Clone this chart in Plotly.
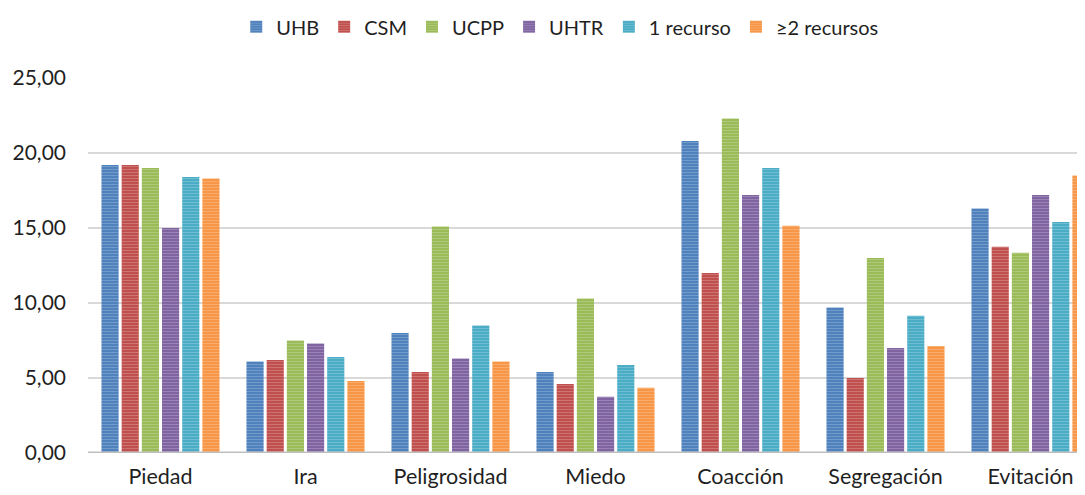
import plotly.graph_objects as go

categories = ["Piedad", "Ira", "Peligrosidad", "Miedo", "Coacción", "Segregación", "Evitación"]
series_names = ["UHB", "CSM", "UCPP", "UHTR", "1 recurso", "≥2 recursos"]
uhb = [19.2, 6.1, 8.0, 5.4, 20.8, 9.7, 16.3]
csm = [19.2, 6.2, 5.4, 4.6, 12.0, 5.0, 13.75]
ucpp = [19.0, 7.5, 15.1, 10.3, 22.3, 13.0, 13.35]
uhtr = [15.0, 7.3, 6.3, 3.75, 17.2, 7.0, 17.2]
rec1 = [18.4, 6.4, 8.5, 5.87, 19.0, 9.15, 15.4]
rec2 = [18.3, 4.8, 6.1, 4.35, 15.15, 7.13, 18.5]
colors = ["#4F81BD", "#C0504D", "#9BBB59", "#8064A2", "#4BACC6", "#F79646"]
y_ticks = [0, 5, 10, 15, 20, 25]

fig = go.Figure()
for name, vals, col in zip(series_names, [uhb, csm, ucpp, uhtr, rec1, rec2], colors):
    fig.add_trace(go.Bar(
        x=categories, y=vals, name=name,
        marker=dict(color=col, line=dict(width=0),
                    pattern=dict(shape="-", fgcolor="rgba(255,255,255,0.45)", size=3, solidity=0.3)),
    ))

font_family = "Lato, 'Open Sans', sans-serif"
fig.update_layout(
    width=1085, height=495,
    margin=dict(l=80, r=0, t=70, b=50, autoexpand=False),
    paper_bgcolor="white", plot_bgcolor="white",
    barmode="group", bargap=0.165, bargroupgap=0.15,
    separators=",.",
    font=dict(family=font_family, size=20, color="#1F1F1F"),
    showlegend=True,
    legend=dict(orientation="h", xref="container", yref="container",
                x=0.509, xanchor="center", y=0.962, yanchor="middle",
                font=dict(size=20, color="#1F1F1F"), itemwidth=30, traceorder="normal"),
    xaxis=dict(range=[-0.5, 6.431], showgrid=False, showline=False, ticks="",
               automargin=False, ticklabelstandoff=8,
               tickfont=dict(size=21.5, color="#1F1F1F")),
    yaxis=dict(range=[0, 25], tickvals=y_ticks, tickformat=".2f", showgrid=True,
               gridcolor="#D9D9D9", gridwidth=2, zeroline=False, showline=False,
               automargin=False, ticks="", ticklabelstandoff=21,
               tickfont=dict(size=21, color="#1F1F1F")),
)
fig.add_shape(type="line", xref="paper", yref="y", x0=0, x1=1, y0=0, y1=0,
              line=dict(color="#BFBFBF", width=3), layer="above")
fig.write_html("out.html")
